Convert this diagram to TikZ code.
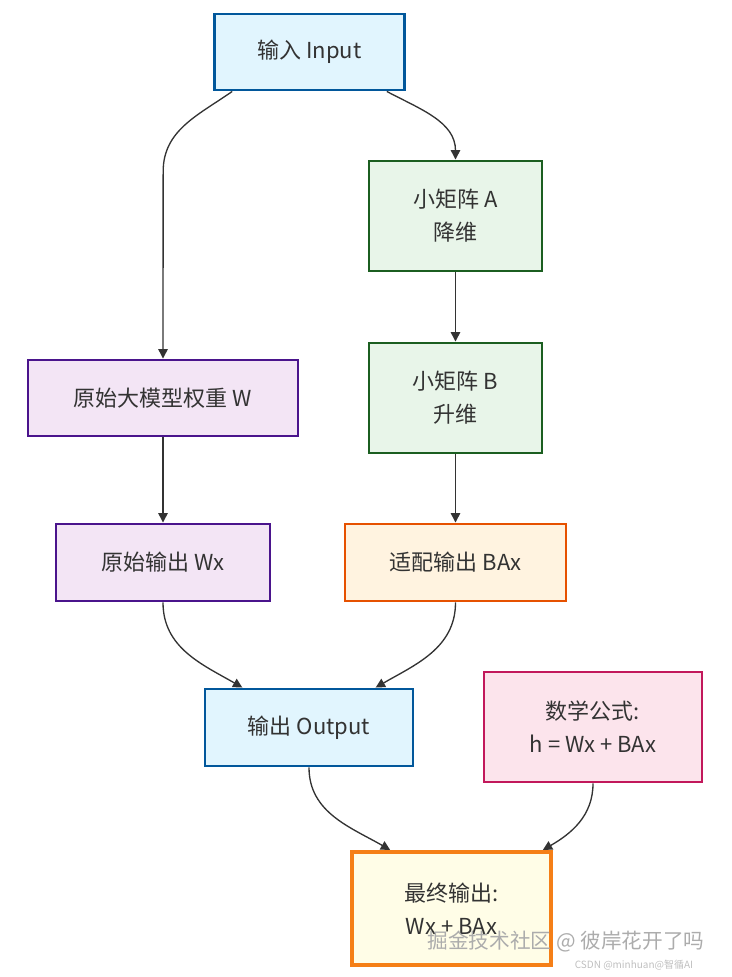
\documentclass[tikz,border=0pt]{standalone}
\usepackage{fontspec}
\setmainfont{Noto Sans CJK SC}
\usetikzlibrary{arrows.meta}

\definecolor{txt}{HTML}{333333}
\definecolor{bluefill}{HTML}{E1F5FE}
\definecolor{bluedraw}{HTML}{01579B}
\definecolor{greenfill}{HTML}{E8F5E9}
\definecolor{greendraw}{HTML}{1B5E20}
\definecolor{purplefill}{HTML}{F3E5F5}
\definecolor{purpledraw}{HTML}{4A148C}
\definecolor{orangefill}{HTML}{FFF3E0}
\definecolor{orangedraw}{HTML}{E65100}
\definecolor{pinkfill}{HTML}{FCE4EC}
\definecolor{pinkdraw}{HTML}{C2185B}
\definecolor{yellowfill}{HTML}{FFFDE7}
\definecolor{yellowdraw}{HTML}{F57F17}

\tikzset{
	box/.style={draw, line width=2.2pt, text=txt, align=center,
		font=\fontsize{16.5}{24.75}\selectfont, inner sep=0pt},
	bluebox/.style={box, fill=bluefill, draw=bluedraw},
	greenbox/.style={box, fill=greenfill, draw=greendraw},
	purplebox/.style={box, fill=purplefill, draw=purpledraw},
	orangebox/.style={box, fill=orangefill, draw=orangedraw},
	pinkbox/.style={box, fill=pinkfill, draw=pinkdraw},
	finalbox/.style={box, fill=yellowfill, draw=yellowdraw, line width=3pt},
	arr/.style={draw=txt, line width=1pt, -{Triangle[length=7pt,width=7pt]}},
	mark text/.style={text=gray!65, inner sep=0pt}
}

\begin{document}
\begin{tikzpicture}[x=0.75pt,y=0.75pt]
	%\draw[help lines] (0,0) grid[step=50] (731,-977);
	\useasboundingbox (0,0) rectangle (731,-977);
	\node[bluebox, minimum width=143pt, minimum height=57pt] (inp) at (309.5,-52) {输入 Input};
	\node[greenbox, minimum width=129.75pt, minimum height=82.5pt] (mata) at (455.5,-216) {小矩阵 A\\降维};
	\node[purplebox, minimum width=202.5pt, minimum height=57pt] (weight) at (163,-398) {原始大模型权重 W};
	\node[greenbox, minimum width=129.75pt, minimum height=82.5pt] (matb) at (455.5,-398) {小矩阵 B\\升维};
	\node[purplebox, minimum width=160.5pt, minimum height=57.75pt] (wx) at (163,-562.5) {原始输出 Wx};
	\node[orangebox, minimum width=165.75pt, minimum height=57.75pt] (bax) at (455.5,-562.5) {适配输出 BAx};
	\node[bluebox, minimum width=156pt, minimum height=57.75pt] (outp) at (309,-727.5) {输出 Output};
	\node[pinkbox, minimum width=163.5pt, minimum height=82.5pt] (formula) at (593,-727) {数学公式:\\h = Wx + BAx};
	\node[finalbox, minimum width=149.25pt, minimum height=84.75pt] (final) at (451.5,-908.5) {最终输出:\\Wx + BAx};

	\draw[arr] ([xshift=-58pt]inp.south) to[out=-145,in=90] ++(-69,-80) -- (weight.north);
	\draw[arr] ([xshift=58pt]inp.south) to[out=-28,in=90] (mata.north);
	\draw[arr] (mata) -- (matb);
	\draw[arr] (weight) -- (wx);
	\draw[arr] (matb) -- (bax);
	\draw[arr] (wx.south) to[out=-90,in=150] ([xshift=-50pt]outp.north);
	\draw[arr] (bax.south) to[out=-90,in=30] ([xshift=50pt]outp.north);
	\draw[arr] (outp.south) to[out=-90,in=150] ([xshift=-46pt]final.north);
	\draw[arr] (formula.south) to[out=-90,in=30] ([xshift=68.5pt]final.north);

	\node[mark text, font=\fontsize{15.5}{18}\selectfont] (mark1) at (566,-942) {掘金技术社区 @ 彼岸花开了吗};
	\node[mark text, font=\fontsize{7.5}{9}\selectfont, text=gray!50] (mark2) at (634,-965) {CSDN @minhuan@智循AI};
\end{tikzpicture}
\end{document}
